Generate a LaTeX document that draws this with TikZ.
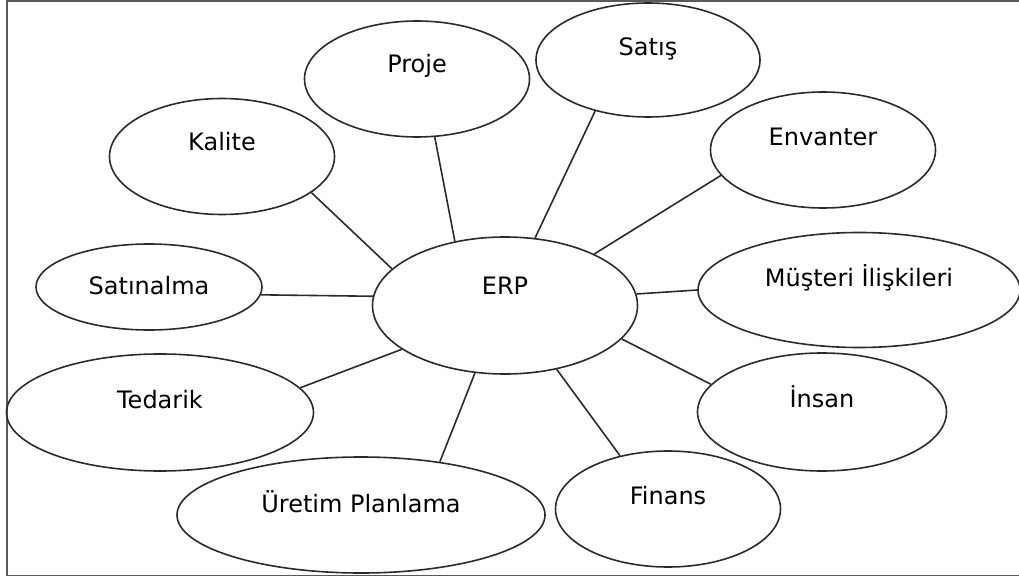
\documentclass[tikz,border=0pt]{standalone}
\usepackage{fontspec}
\setmainfont{DejaVu Sans}
\usetikzlibrary{shapes.geometric}
\definecolor{inkgray}{HTML}{2B2B2B}
\definecolor{framegray}{HTML}{5A5A5A}
\tikzset{
  bubble/.style={ellipse, draw=inkgray, line width=1.6pt, inner sep=0pt,
    minimum width=225pt, minimum height=116pt, text height=18pt,
    font=\fontsize{24}{28}\selectfont},
  link/.style={draw=inkgray, line width=1.6pt},
}

\begin{document}
\begin{tikzpicture}[x=1pt, y=-1pt]
  \useasboundingbox (0,0) rectangle (1019,577);
  \draw[framegray, line width=1.6pt] (1020,1) -- (7,1) -- (7,575.5) -- (1020,575.5);

  % centre and the modules round it
  \node[bubble, minimum width=265pt, minimum height=137pt, text depth=39.5pt] (erp) at (505,305.5) {ERP};
  \node[bubble, text depth=30.5pt] (proje) at (417,79) {Proje};
  \node[bubble, minimum width=224pt, minimum height=114pt, text depth=26.5pt] (satis) at (648,60) {Satış};
  \node[bubble, text depth=29.5pt] (kalite) at (222,156.5) {Kalite};
  \node[bubble, text depth=26.5pt] (envanter) at (823,150) {Envanter};
  \node[bubble, minimum width=226pt, minimum height=86pt, text depth=2.5pt] (satinalma) at (149,287) {Satınalma};
  \node[bubble, minimum width=322pt, minimum height=115pt, text depth=24.5pt] (musteri) at (859,290) {Müşteri İlişkileri};
  \node[bubble, minimum width=307pt, minimum height=117pt, text depth=25.5pt] (tedarik) at (160,412.5) {Tedarik};
  \node[bubble, minimum width=249pt, minimum height=118pt, text depth=27.5pt] (insan) at (822,412) {İnsan};
  \node[bubble, minimum width=368pt, text depth=23.5pt] (uretim) at (361,515) {Üretim Planlama};
  \node[bubble, text depth=26.5pt] (finans) at (668,509) {Finans};

  \draw[link] (erp.128) -- (proje.-73);
  \draw[link] (erp.66) -- (satis.-136);
  \draw[link] (erp.30) -- (envanter.-166);
  \draw[link] (erp.162) -- (kalite.-22);
  \draw[link] (erp.176) -- (satinalma.-4);
  \draw[link] (erp.-157) -- (tedarik.10);
  \draw[link] (erp.-114) -- (uretim.34);
  \draw[link] (erp.-51) -- (finans.132);
  \draw[link] (erp.5) -- (musteri.180);
  \draw[link] (erp.-16) -- (insan.166);
\end{tikzpicture}
\end{document}
